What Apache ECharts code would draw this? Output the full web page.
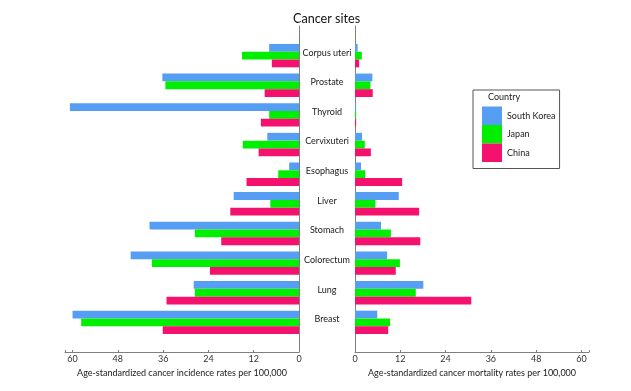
<!DOCTYPE html>
<html>
<head>
<meta charset="utf-8">
<script src="https://cdn.jsdelivr.net/npm/echarts@6/dist/echarts.min.js"></script>
<style>
html,body{margin:0;padding:0;background:#fff;}
#chart{width:631px;height:391px;}
</style>
</head>
<body>
<div id="chart"></div>
<script>
// Data
const sites = ['Corpus uteri', 'Prostate', 'Thyroid', 'Cervixuteri', 'Esophagus', 'Liver', 'Stomach', 'Colorectum', 'Lung', 'Breast'];
const countries = ['South Korea', 'Japan', 'China'];
// Incidence (left panel)
const incKorea = [7.9, 36.2, 60.7, 8.4, 2.6, 17.3, 39.6, 44.6, 27.9, 60.0];
const incJapan = [15.1, 35.4, 7.9, 14.9, 5.5, 7.6, 27.6, 39.0, 27.6, 57.7];
const incChina = [7.2, 9.1, 10.1, 10.7, 13.9, 18.2, 20.6, 23.6, 35.1, 36.1];
// Mortality (right panel)
const morKorea = [0.7, 4.6, 0.3, 1.85, 1.6, 11.6, 6.9, 8.5, 18.1, 5.9];
const morJapan = [1.8, 4.1, 0.3, 2.6, 2.7, 5.4, 9.5, 11.9, 16.1, 9.3];
const morChina = [1.1, 4.7, 0.3, 4.2, 12.5, 17.0, 17.3, 10.8, 30.8, 8.8];
const xTicks = [0, 12, 24, 36, 48, 60];

const colors = ['#559ef4', '#00ee00', '#f5126e'];
const FONT = 'Lato';
const cats = [''].concat(sites, ['']);
const pad = v => [null].concat(v, [null]);

const chart = echarts.init(document.getElementById('chart'));
const axisLineColor = '#7f7f7f';

function xAxisCfg(gridIndex, inverse, name) {
  return {
    type: 'value', gridIndex: gridIndex, inverse: inverse,
    min: 0, max: 62, interval: 12,
    name: name, nameLocation: 'middle', nameGap: 16,
    nameTextStyle: { fontFamily: FONT, fontSize: 9, color: '#1a1a1a' },
    axisLine: { show: true, lineStyle: { color: axisLineColor, width: 1 } },
    axisTick: { show: true, inside: true, length: 2, lineStyle: { color: axisLineColor } },
    axisLabel: {
      margin: 3, fontFamily: FONT, fontSize: 9, color: '#333',
      formatter: v => (xTicks.indexOf(v) >= 0 ? String(v) : '')
    },
    splitLine: { show: false }
  };
}

function yAxisCfg(gridIndex, position, showLabels) {
  return {
    type: 'category', gridIndex: gridIndex, data: cats, inverse: true,
    boundaryGap: false, position: position,
    axisLine: { show: true, lineStyle: { color: axisLineColor, width: 1 } },
    axisTick: { show: false },
    axisLabel: showLabels ? { show: true, align: 'center', verticalAlign: 'bottom', lineHeight: 6, margin: 28, fontFamily: FONT, fontSize: 9, color: '#1a1a1a', interval: 0 } : { show: false },
    splitLine: { show: false }
  };
}

const incData = [incKorea, incJapan, incChina];
const morData = [morKorea, morJapan, morChina];
const series = [];
countries.forEach((c, i) => {
  series.push({ name: c, type: 'bar', xAxisIndex: 0, yAxisIndex: 0, data: pad(incData[i]), barWidth: 7.8, barGap: '0%', itemStyle: { color: colors[i] }, silent: true });
});
countries.forEach((c, i) => {
  series.push({ name: c, type: 'bar', xAxisIndex: 1, yAxisIndex: 1, data: pad(morData[i]), barWidth: 7.8, barGap: '0%', itemStyle: { color: colors[i] }, silent: true });
});

chart.setOption({
  animation: false,
  backgroundColor: '#fff',
  color: colors,
  title: [
    { text: 'Cancer sites', left: 293, top: 12.5, padding: 0, textStyle: { fontFamily: FONT, fontSize: 12.6, fontWeight: 'normal', color: '#111' } },
    { text: 'Country', left: 488, top: 93, padding: 0, textStyle: { fontFamily: FONT, fontSize: 9, fontWeight: 'normal', color: '#1a1a1a' } }
  ],
  legend: {
    orient: 'vertical', left: 473, top: 90,
    padding: [16.5, 4, 6.5, 9],
    itemWidth: 20, itemHeight: 18.5, itemGap: 0,
    borderColor: '#555', borderWidth: 1,
    icon: 'rect',
    data: countries,
    textStyle: { fontFamily: FONT, fontSize: 9, color: '#1a1a1a' },
    selectedMode: false
  },
  grid: [
    { left: 65, top: 26, width: 234, height: 326 },
    { left: 355, top: 26, width: 234, height: 326 }
  ],
  xAxis: [
    xAxisCfg(0, true, 'Age-standardized cancer incidence rates per 100,000'),
    xAxisCfg(1, false, 'Age-standardized cancer mortality rates per 100,000')
  ],
  yAxis: [
    yAxisCfg(0, 'right', false),
    yAxisCfg(1, 'left', true)
  ],
  series: series
});
</script>
</body>
</html>
